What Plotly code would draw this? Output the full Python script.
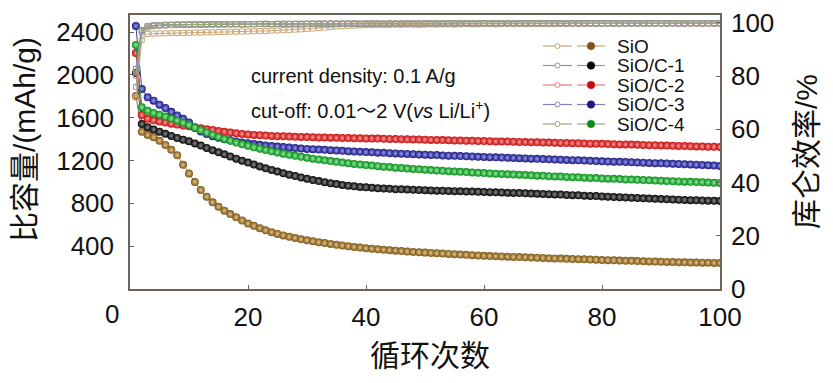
import plotly.graph_objects as go

cycles = list(range(1, 101))
series_names = ["SiO", "SiO/C-1", "SiO/C-2", "SiO/C-3", "SiO/C-4"]

# discharge specific capacity (mAh/g)
cap_sio = [1804, 1470, 1439, 1418, 1385, 1346, 1300, 1250, 1160, 1080,
           1000, 925, 862, 810, 768, 732, 700, 670, 640, 612,
           590, 568, 548, 531, 515, 501, 488, 476, 465, 455,
           446, 437, 429, 421, 413, 406, 399, 393, 387, 381,
           376, 371, 366, 362, 358, 354, 350, 346, 343, 340,
           337, 334, 331, 328, 325, 322, 319, 316, 313, 310,
           308, 306, 304, 302, 300, 298, 296, 294, 292, 290,
           288, 286, 284, 282, 280, 278, 277, 275, 273, 271,
           269, 268, 266, 264, 263, 261, 259, 258, 256, 255,
           253, 252, 250, 249, 248, 247, 246, 245, 244, 243]
cap_c1 = [2019, 1542, 1511, 1490, 1470, 1450, 1430, 1411, 1395, 1380,
          1360, 1340, 1318, 1297, 1277, 1258, 1238, 1218, 1199, 1181,
          1163, 1145, 1128, 1112, 1097, 1082, 1068, 1055, 1042, 1030,
          1019, 1008, 998, 989, 980, 972, 965, 959, 954, 950,
          946, 942, 939, 936, 933, 931, 929, 927, 925, 923,
          921, 919, 918, 916, 914, 913, 911, 910, 908, 907,
          905, 903, 902, 900, 898, 896, 894, 892, 890, 888,
          886, 884, 882, 879, 877, 875, 872, 870, 868, 865,
          863, 860, 858, 855, 853, 850, 848, 845, 843, 840,
          838, 836, 834, 832, 830, 829, 827, 825, 824, 822]
cap_c2 = [2205, 1626, 1590, 1576, 1565, 1555, 1545, 1536, 1528, 1520,
          1511, 1502, 1493, 1485, 1477, 1469, 1462, 1455, 1449, 1444,
          1440, 1436, 1433, 1430, 1428, 1426, 1424, 1422, 1420, 1419,
          1418, 1416, 1415, 1414, 1412, 1411, 1410, 1409, 1408, 1407,
          1406, 1405, 1403, 1402, 1401, 1400, 1398, 1397, 1396, 1395,
          1393, 1392, 1391, 1390, 1388, 1387, 1386, 1384, 1383, 1382,
          1381, 1379, 1378, 1377, 1376, 1374, 1373, 1372, 1370, 1369,
          1368, 1366, 1365, 1364, 1362, 1361, 1360, 1358, 1357, 1356,
          1354, 1353, 1351, 1350, 1349, 1347, 1346, 1344, 1343, 1341,
          1340, 1338, 1337, 1335, 1334, 1332, 1331, 1330, 1328, 1327]
cap_c3 = [2458, 1869, 1791, 1760, 1722, 1690, 1655, 1622, 1590, 1556,
          1505, 1472, 1448, 1428, 1413, 1400, 1389, 1378, 1369, 1361,
          1354, 1347, 1341, 1336, 1331, 1326, 1322, 1317, 1313, 1309,
          1306, 1303, 1300, 1297, 1294, 1291, 1288, 1285, 1282, 1279,
          1277, 1274, 1272, 1269, 1267, 1264, 1262, 1260, 1257, 1255,
          1253, 1251, 1248, 1246, 1244, 1242, 1240, 1238, 1236, 1234,
          1232, 1230, 1228, 1226, 1224, 1222, 1220, 1218, 1216, 1214,
          1212, 1210, 1208, 1206, 1204, 1202, 1200, 1198, 1196, 1194,
          1192, 1190, 1188, 1186, 1184, 1182, 1180, 1178, 1176, 1174,
          1172, 1170, 1168, 1166, 1164, 1162, 1159, 1157, 1154, 1150]
cap_c4 = [2280, 1698, 1666, 1645, 1628, 1611, 1592, 1573, 1553, 1532,
          1508, 1484, 1462, 1441, 1421, 1402, 1385, 1368, 1352, 1338,
          1324, 1311, 1298, 1286, 1275, 1264, 1254, 1244, 1235, 1226,
          1218, 1210, 1202, 1195, 1188, 1181, 1175, 1169, 1163, 1158,
          1153, 1148, 1143, 1139, 1134, 1130, 1126, 1122, 1118, 1115,
          1111, 1108, 1104, 1101, 1098, 1095, 1092, 1089, 1086, 1083,
          1080, 1077, 1075, 1072, 1069, 1067, 1064, 1062, 1059, 1057,
          1054, 1052, 1050, 1047, 1045, 1043, 1040, 1038, 1036, 1033,
          1031, 1029, 1027, 1024, 1022, 1020, 1018, 1015, 1013, 1011,
          1009, 1007, 1005, 1003, 1001, 999, 997, 995, 993, 991]

# coulombic efficiency (%)
ce_sio = [72.0, 93.6, 95.9, 96.0, 96.1, 96.1, 96.2, 96.2, 96.3, 96.3,
          96.4, 96.4, 96.5, 96.5, 96.6, 96.6, 96.7, 96.7, 96.8, 96.8,
          96.9, 97.0, 97.0, 97.1, 97.2, 97.3, 97.4, 97.5, 97.6, 97.8,
          97.9, 98.1, 98.3, 98.5, 98.7, 98.8, 98.9, 99.0, 99.1, 99.2,
          99.2, 99.3, 99.2, 99.3, 99.4, 99.3, 99.4, 99.4, 99.3, 99.4,
          99.5, 99.4, 99.5, 99.5, 99.4, 99.5, 99.6, 99.5, 99.5, 99.6,
          99.6, 99.5, 99.6, 99.6, 99.7, 99.6, 99.6, 99.7, 99.6, 99.7,
          99.7, 99.6, 99.7, 99.7, 99.8, 99.7, 99.7, 99.8, 99.7, 99.8,
          99.8, 99.7, 99.8, 99.8, 99.7, 99.8, 99.8, 99.9, 99.8, 99.8,
          99.8, 99.9, 99.8, 99.8, 99.9, 99.8, 99.9, 99.9, 99.8, 99.9]
ce_c1 = [76.0, 96.4, 98.3, 98.8, 99.0, 99.1, 99.2, 99.2, 99.3, 99.3,
         99.4, 99.3, 99.4, 99.4, 99.5, 99.4, 99.5, 99.5, 99.4, 99.5,
         99.5, 99.6, 99.5, 99.5, 99.6, 99.5, 99.6, 99.6, 99.5, 99.6,
         99.6, 99.5, 99.6, 99.7, 99.6, 99.6, 99.7, 99.6, 99.6, 99.7,
         99.7, 99.6, 99.7, 99.7, 99.6, 99.7, 99.7, 99.8, 99.7, 99.7,
         99.8, 99.7, 99.7, 99.8, 99.7, 99.8, 99.8, 99.7, 99.8, 99.8,
         99.7, 99.8, 99.8, 99.8, 99.7, 99.8, 99.8, 99.9, 99.8, 99.8,
         99.8, 99.9, 99.8, 99.8, 99.9, 99.8, 99.8, 99.9, 99.8, 99.9,
         99.9, 99.8, 99.8, 99.9, 99.8, 99.9, 99.9, 99.8, 99.9, 99.9,
         99.8, 99.9, 99.9, 99.8, 99.9, 99.9, 99.8, 99.9, 99.9, 99.9]
ce_c2 = [80.2, 97.1, 98.7, 99.0, 99.2, 99.3, 99.3, 99.4, 99.4, 99.5,
         99.4, 99.5, 99.5, 99.6, 99.5, 99.5, 99.6, 99.6, 99.5, 99.6,
         99.6, 99.7, 99.6, 99.6, 99.7, 99.6, 99.7, 99.7, 99.6, 99.7,
         99.7, 99.7, 99.8, 99.7, 99.7, 99.8, 99.7, 99.8, 99.8, 99.7,
         99.8, 99.8, 99.7, 99.8, 99.8, 99.9, 99.8, 99.8, 99.8, 99.9,
         99.8, 99.8, 99.9, 99.8, 99.9, 99.9, 99.8, 99.9, 99.8, 99.9,
         99.9, 99.8, 99.9, 99.9, 99.9, 99.8, 99.9, 99.9, 99.9, 99.8,
         99.9, 99.9, 99.9, 99.9, 99.8, 99.9, 99.9, 99.9, 99.9, 99.9,
         99.8, 99.9, 99.9, 99.9, 99.9, 99.9, 99.8, 99.9, 99.9, 99.9,
         99.9, 99.9, 99.9, 99.8, 99.9, 99.9, 99.9, 99.9, 99.9, 99.9]
ce_c3 = [82.8, 97.4, 98.9, 99.1, 99.2, 99.3, 99.3, 99.4, 99.4, 99.4,
         99.5, 99.4, 99.5, 99.5, 99.5, 99.6, 99.5, 99.6, 99.6, 99.5,
         99.6, 99.6, 99.7, 99.6, 99.6, 99.7, 99.7, 99.6, 99.7, 99.7,
         99.7, 99.8, 99.7, 99.7, 99.8, 99.7, 99.8, 99.8, 99.7, 99.8,
         99.8, 99.8, 99.7, 99.8, 99.8, 99.8, 99.9, 99.8, 99.8, 99.9,
         99.8, 99.9, 99.8, 99.9, 99.9, 99.8, 99.9, 99.9, 99.8, 99.9,
         99.9, 99.9, 99.8, 99.9, 99.9, 99.9, 99.9, 99.8, 99.9, 99.9,
         99.9, 99.9, 99.9, 99.8, 99.9, 99.9, 99.9, 99.9, 99.9, 99.8,
         99.9, 99.9, 99.9, 99.9, 99.9, 99.8, 99.9, 99.9, 99.9, 99.9,
         99.9, 99.9, 99.8, 99.9, 99.9, 99.9, 99.9, 99.9, 99.9, 99.9]
ce_c4 = [81.3, 97.0, 98.8, 99.0, 99.2, 99.2, 99.3, 99.3, 99.4, 99.4,
         99.4, 99.5, 99.4, 99.5, 99.5, 99.5, 99.6, 99.5, 99.6, 99.6,
         99.6, 99.6, 99.7, 99.6, 99.7, 99.7, 99.6, 99.7, 99.7, 99.7,
         99.8, 99.7, 99.7, 99.8, 99.7, 99.8, 99.8, 99.8, 99.7, 99.8,
         99.8, 99.8, 99.8, 99.9, 99.8, 99.8, 99.8, 99.9, 99.8, 99.8,
         99.9, 99.8, 99.9, 99.9, 99.8, 99.9, 99.9, 99.8, 99.9, 99.9,
         99.9, 99.8, 99.9, 99.9, 99.9, 99.9, 99.8, 99.9, 99.9, 99.9,
         99.9, 99.8, 99.9, 99.9, 99.9, 99.9, 99.9, 99.8, 99.9, 99.9,
         99.9, 99.9, 99.9, 99.8, 99.9, 99.9, 99.9, 99.9, 99.9, 99.9,
         99.8, 99.9, 99.9, 99.9, 99.9, 99.9, 99.9, 99.9, 99.8, 99.9]

x_ticks = [20, 40, 60, 80, 100]
cap_ticks = [400, 800, 1200, 1600, 2000, 2400]
ce_ticks = [0, 20, 40, 60, 80, 100]

cap_series = [cap_sio, cap_c1, cap_c2, cap_c3, cap_c4]
ce_series = [ce_sio, ce_c1, ce_c2, ce_c3, ce_c4]

sphere_base = ["#7a5516", "#050505", "#c40d0d", "#1a1a78", "#0c8a1c"]
sphere_hi = ["#e6c68a", "#8a8a8a", "#ff9a9a", "#9a9aff", "#8ef09a"]
cap_line = ["#8a7a60", "#555555", "#b04040", "#404088", "#3a8a45"]
ce_col = ["#c9a676", "#9a9494", "#e87c7c", "#8282c8", "#98aa78"]

FRAME = "#6e625a"
TICKFONT = dict(family="Liberation Sans, Arial", size=26, color="#111111")
CJK = "Liberation Sans, Arial, Noto Sans CJK SC"

fig = go.Figure()

for ce, col, name in zip(ce_series, ce_col, series_names):
    fig.add_trace(go.Scatter(
        x=cycles, y=ce, yaxis="y2", name=name + " CE", mode="lines+markers",
        line=dict(color=col, width=1),
        marker=dict(symbol="square-open", size=5, color=col, line=dict(width=1, color=col)),
        showlegend=False))

for cap, base, hi, lc, name in zip(cap_series, sphere_base, sphere_hi, cap_line, series_names):
    fig.add_trace(go.Scatter(
        x=cycles, y=cap, name=name, mode="lines+markers",
        line=dict(color=lc, width=1),
        marker=dict(size=8, color=base, gradient=dict(type="radial", color=hi), line=dict(width=0)),
        showlegend=False))

# plot area in the target picture: x 130..720, y 15..289 (page has an 8px body offset)
PX0, PY1 = 130, 289
PW, PH = 590.0, 274.0
rows_px = [46, 65.5, 85, 104.5, 124]
shapes = []
annotations = []
for i, name in enumerate(series_names):
    yp = (PY1 - rows_px[i]) / PH
    shapes.append(dict(type="line", xref="paper", yref="paper",
                       x0=(543 - PX0) / PW, x1=(572 - PX0) / PW, y0=yp, y1=yp,
                       line=dict(color=ce_col[i], width=1.2)))
    r = 2.5
    shapes.append(dict(type="circle", xref="paper", yref="paper",
                       x0=(557.5 - r - PX0) / PW, x1=(557.5 + r - PX0) / PW,
                       y0=yp - r / PH, y1=yp + r / PH,
                       line=dict(color=ce_col[i], width=1), fillcolor="white"))
    shapes.append(dict(type="line", xref="paper", yref="paper",
                       x0=(577 - PX0) / PW, x1=(605 - PX0) / PW, y0=yp, y1=yp,
                       line=dict(color=ce_col[i], width=1.2)))
    r = 3.8
    shapes.append(dict(type="circle", xref="paper", yref="paper",
                       x0=(591 - r - PX0) / PW, x1=(591 + r - PX0) / PW,
                       y0=yp - r / PH, y1=yp + r / PH,
                       line=dict(color=sphere_base[i], width=0.5), fillcolor=sphere_base[i]))
    annotations.append(dict(xref="paper", yref="paper", x=(615 - PX0) / PW, y=yp,
                            xanchor="left", yanchor="middle", showarrow=False,
                            height=19,
                            text=name, font=dict(family="Liberation Sans, Arial", size=19, color="#111111")))

annotations += [
    dict(xref="paper", yref="paper", x=(249 - PX0) / PW, y=(PY1 - 76) / PH,
         xanchor="left", yanchor="middle", showarrow=False,
         text="current density: 0.1 A/g",
         font=dict(family="Liberation Sans, Arial", size=20, color="#111111")),
    dict(xref="paper", yref="paper", x=(249 - PX0) / PW, y=(PY1 - 110) / PH,
         xanchor="left", yanchor="middle", showarrow=False,
         text="cut-off: 0.01～2 V(<i>vs</i> Li/Li<sup>+</sup>)",
         font=dict(family="Liberation Sans, Arial, Noto Sans CJK SC", size=20, color="#111111")),
    dict(xref="paper", yref="paper", x=(112 - PX0) / PW, y=(PY1 - 314) / PH,
         xanchor="center", yanchor="middle", showarrow=False, text="0", font=TICKFONT),
    dict(xref="paper", yref="paper", x=(24 - PX0) / PW, y=(PY1 - 140) / PH,
         xanchor="center", yanchor="middle", showarrow=False, textangle=-90,
         text="比容量/(mAh/g)", font=dict(family=CJK, size=30, color="#111111")),
    dict(xref="paper", yref="paper", x=(806 - PX0) / PW, y=(PY1 - 152) / PH,
         xanchor="center", yanchor="middle", showarrow=False, textangle=-90,
         text="库仑效率/%", font=dict(family=CJK, size=30, color="#111111")),
    dict(xref="paper", yref="paper", x=(430 - PX0) / PW, y=(PY1 - 355) / PH,
         xanchor="center", yanchor="middle", showarrow=False,
         text="循环次数", font=dict(family=CJK, size=30, color="#111111")),
]

fig.update_layout(
    width=833, height=383,
    margin=dict(l=122, r=121, t=7, b=102, autoexpand=False),
    paper_bgcolor="white", plot_bgcolor="white",
    showlegend=False,
    shapes=shapes,
    annotations=annotations,
    xaxis=dict(range=[0, 100], tickvals=x_ticks, ticks="inside", ticklen=4,
               tickcolor=FRAME, tickwidth=1.2, showline=True, linecolor=FRAME,
               linewidth=1.5, mirror=True, showgrid=False, zeroline=False,
               tickfont=TICKFONT, ticklabelstandoff=4, automargin=False),
    yaxis=dict(range=[0, 2560], tickvals=cap_ticks, ticks="inside", ticklen=4,
               tickcolor=FRAME, tickwidth=1.2, showline=True, linecolor=FRAME,
               linewidth=1.5, showgrid=False, zeroline=False,
               tickfont=TICKFONT, ticklabelstandoff=9, automargin=False),
    yaxis2=dict(range=[0, 103], tickvals=ce_ticks, overlaying="y", side="right",
                anchor="x", ticks="inside", ticklen=4, tickcolor=FRAME, tickwidth=1.2,
                showline=True, linecolor=FRAME, linewidth=1.5, showgrid=False,
                zeroline=False, tickfont=TICKFONT, ticklabelstandoff=4, automargin=False),
)

fig.write_html("out.html")
